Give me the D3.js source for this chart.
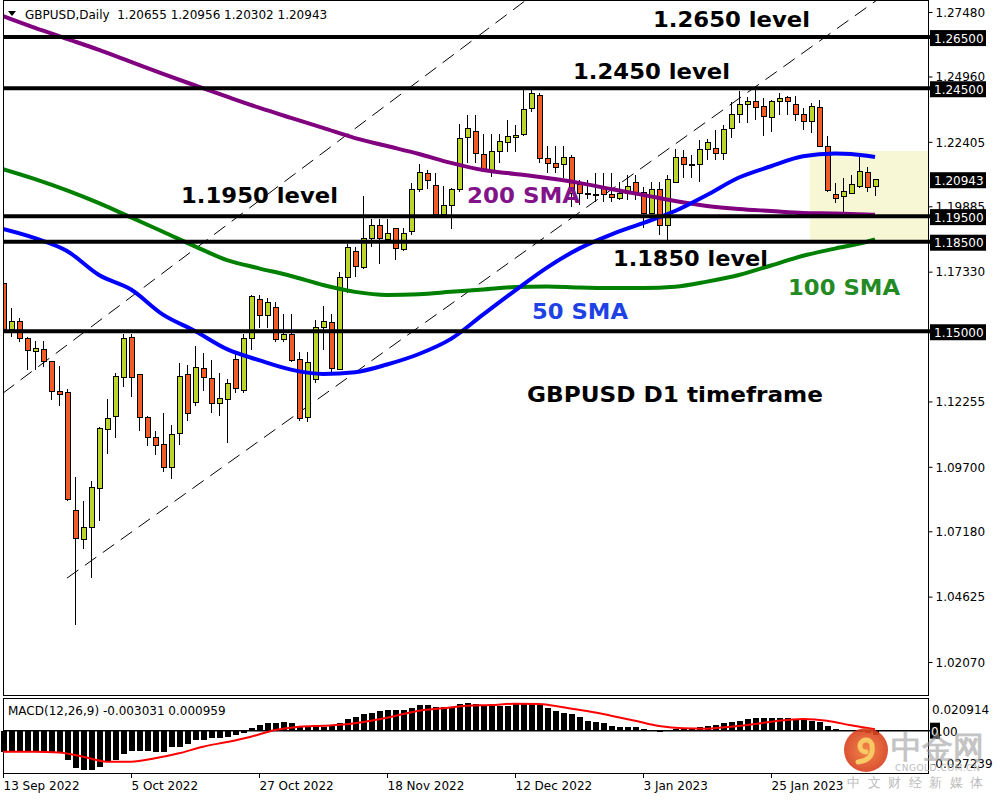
<!DOCTYPE html>
<html>
<head>
<meta charset="utf-8">
<script src="https://cdn.jsdelivr.net/npm/d3@7"></script>
<style>
  body { margin: 0; background: #fff; }
  svg { display: block; }
  text { font-family: "DejaVu Sans", sans-serif; }
</style>
</head>
<body>
<svg id="chart" width="1000" height="800"></svg>
<script>
// daily candles, 13 Sep 2022 .. 13 Feb 2023 (110 bars)
const open = [1.1685,1.1505,1.1540,1.1470,1.1419,1.1430,1.1380,1.1266,1.1262,1.0801,
  1.0684,1.0731,1.0887,1.1114,1.1168,1.1321,1.1477,1.1329,1.1161,1.1086,
  1.1059,1.0969,1.1102,1.1329,1.1223,1.1356,1.1317,1.1219,1.1235,1.1391,
  1.1270,1.1473,1.1626,1.1563,1.1591,1.1466,1.1489,1.1391,1.1161,1.1313,
  1.1513,1.1536,1.1352,1.1712,1.1810,1.1751,1.1864,1.1915,1.1860,1.1900,
  1.1821,1.1888,1.2056,1.2115,1.2068,1.1958,1.1990,1.2056,1.2259,1.2279,
  1.2189,1.2130,1.2201,1.2236,1.2259,1.2271,1.2369,1.2420,1.2177,1.2154,
  1.2150,1.2181,1.2072,1.2040,1.2029,1.2060,1.2033,1.2017,1.2040,1.2080,
  1.2044,1.1962,1.2056,1.1915,1.2083,1.2181,1.2150,1.2150,1.2209,1.2216,
  1.2193,1.2291,1.2349,1.2388,1.2400,1.2377,1.2334,1.2400,1.2412,1.2388,
  1.2349,1.2318,1.2373,1.2224,1.2036,1.2025,1.2040,1.2064,1.2119,1.20655];
const high = [1.1739,1.1591,1.1552,1.1477,1.1462,1.1462,1.1384,1.1364,1.1274,1.0930,
  1.0836,1.0914,1.1125,1.1235,1.1337,1.1489,1.1489,1.1333,1.1168,1.1110,
  1.1180,1.1133,1.1376,1.1368,1.1442,1.1415,1.1387,1.1337,1.1313,1.1415,
  1.1489,1.1642,1.1642,1.1630,1.1614,1.1567,1.1567,1.1419,1.1419,1.1544,
  1.1599,1.1567,1.1732,1.1841,1.1829,1.2029,1.1939,1.1939,1.1939,1.1904,
  1.1904,1.2080,1.2154,1.2130,1.2119,1.2068,1.2060,1.2310,1.2345,1.2345,
  1.2271,1.2271,1.2271,1.2326,1.2306,1.2443,1.2443,1.2431,1.2224,1.2224,
  1.2224,1.2189,1.2091,1.2091,1.2119,1.2119,1.2119,1.2083,1.2111,1.2111,
  1.2064,1.2083,1.2083,1.2111,1.2212,1.2209,1.2189,1.2248,1.2252,1.2287,
  1.2306,1.2396,1.2439,1.2416,1.2459,1.2412,1.2404,1.2431,1.2420,1.2420,
  1.2373,1.2392,1.2404,1.2263,1.2080,1.2099,1.2111,1.2185,1.2142,1.20956];
const low = [1.1493,1.1477,1.1458,1.1348,1.1348,1.1360,1.1231,1.1208,1.0836,1.0351,
  1.0648,1.0535,1.0758,1.1020,1.1082,1.1282,1.1243,1.1110,1.1051,1.1016,
  1.0950,1.0922,1.1055,1.1149,1.1208,1.1266,1.1180,1.1168,1.1063,1.1258,
  1.1258,1.1427,1.1513,1.1513,1.1458,1.1458,1.1380,1.1149,1.1145,1.1298,
  1.1427,1.1337,1.1348,1.1649,1.1712,1.1743,1.1829,1.1763,1.1857,1.1778,
  1.1814,1.1876,1.2044,1.2056,1.1954,1.1945,1.1900,1.2044,1.2158,1.2158,
  1.2122,1.2103,1.2158,1.2201,1.2201,1.2263,1.2357,1.2158,1.2119,1.2119,
  1.2099,1.1986,1.1993,1.2017,1.2005,1.2005,1.2005,1.2013,1.2013,1.2013,
  1.1904,1.1958,1.1876,1.1845,1.2083,1.2099,1.2099,1.2083,1.2170,1.2170,
  1.2170,1.2255,1.2314,1.2314,1.2326,1.2263,1.2279,1.2345,1.2345,1.2322,
  1.2287,1.2275,1.2224,1.2044,1.2001,1.1954,1.2040,1.2060,1.2044,1.20302];
const close = [1.1505,1.1540,1.1470,1.1423,1.1434,1.1380,1.1266,1.1254,1.0844,1.0691,
  1.0731,1.0891,1.1118,1.1157,1.1325,1.1473,1.1321,1.1161,1.1086,1.1055,
  1.0969,1.1098,1.1325,1.1180,1.1360,1.1321,1.1219,1.1239,1.1294,1.1278,
  1.1470,1.1634,1.1563,1.1614,1.1466,1.1489,1.1387,1.1157,1.1376,1.1516,
  1.1540,1.1356,1.1712,1.1829,1.1755,1.1864,1.1915,1.1864,1.1884,1.1825,
  1.1884,1.2056,1.2119,1.2091,1.1958,1.1990,1.2056,1.2255,1.2291,1.2193,
  1.2130,1.2201,1.2240,1.2263,1.2267,1.2365,1.2431,1.2177,1.2154,1.2142,
  1.2181,1.2040,1.2040,1.2033,1.2033,1.2033,1.2021,1.2040,1.2064,1.2044,
  1.1962,1.2056,1.1915,1.2095,1.2181,1.2150,1.2146,1.2209,1.2236,1.2193,
  1.2287,1.2349,1.2388,1.2400,1.2373,1.2338,1.2400,1.2408,1.2400,1.2349,
  1.2318,1.2377,1.2224,1.2052,1.2017,1.2048,1.2072,1.2123,1.2060,1.20943];

// moving averages read every 4 bars
const smaBars = [0,4,8,12,16,20,24,28,32,36,40,44,48,52,56,60,64,68,72,76,80,84,88,92,96,100,104,108,109];
const sma50 = [1.1900,1.1864,1.1814,1.1720,1.1663,1.1565,1.1501,1.1430,1.1387,1.1350,1.1333,1.1340,1.1370,1.1411,1.1470,
  1.1565,1.1659,1.1749,1.1823,1.1878,1.1923,1.1970,1.2033,1.2101,1.2145,1.2184,1.2195,1.2186,1.2181];
const sma100 = [1.2134,1.2095,1.2051,1.2001,1.1945,1.1889,1.1832,1.1778,1.1746,1.1716,1.1681,1.1654,1.1642,1.1645,1.1654,
  1.1663,1.1673,1.1675,1.1671,1.1669,1.1669,1.1674,1.1694,1.1720,1.1757,1.1795,1.1823,1.1850,1.1859];
const sma200 = [1.2732,1.2686,1.2643,1.2600,1.2553,1.2506,1.2461,1.2417,1.2374,1.2334,1.2295,1.2255,1.2224,1.2193,1.2158,
  1.2130,1.2115,1.2099,1.2080,1.2056,1.2033,1.2009,1.1990,1.1978,1.1970,1.1962,1.1960,1.1956,1.1955];

// MACD(12,26,9): main as histogram, signal as line
const macdMain = [-0.01383,-0.01383,-0.01383,-0.01383,-0.01383,-0.01383,-0.01383,-0.01493,-0.01933,-0.02482,
  -0.02592,-0.02592,-0.02373,-0.02043,-0.01933,-0.01537,-0.01339,-0.01339,-0.01339,-0.01383,
  -0.01383,-0.01097,-0.01053,-0.00899,-0.00613,-0.00613,-0.00503,-0.00503,-0.00437,-0.00284,
  -0.00130,0.00156,0.00376,0.00486,0.00486,0.00552,0.00486,0.00310,0.00266,0.00266,
  0.00266,0.00310,0.00486,0.00750,0.00925,0.01102,0.01189,0.01321,0.01365,0.01365,
  0.01365,0.01476,0.01695,0.01695,0.01585,0.01585,0.01585,0.01761,0.01805,0.01761,
  0.01650,0.01650,0.01629,0.01629,0.01761,0.01761,0.01761,0.01695,0.01476,0.01321,
  0.01189,0.01080,0.00882,0.00662,0.00596,0.00486,0.00332,0.00266,0.00266,0.00222,
  0.00090,0.00046,-0.00064,0.00046,0.00090,0.00090,0.00200,0.00266,0.00332,0.00398,
  0.00486,0.00574,0.00662,0.00750,0.00816,0.00816,0.00816,0.00816,0.00816,0.00750,
  0.00750,0.00662,0.00596,0.00310,0.00112,0.00046,-0.00042,-0.00086,-0.00130,-0.003031];
const signalBars = [0,4,7,10,13,16,19,22,25,28,31,34,37,40,43,46,49,52,55,58,61,64,67,70,73,76,79,82,85,88,91,94,97,100,103,106,109];
const macdSignal = [-0.01383,-0.01383,-0.0143,-0.01713,-0.02043,-0.02043,-0.01823,-0.01493,-0.01053,-0.00745,-0.00394,
  0.00046,0.00266,0.00332,0.0042,0.00662,0.0097,0.01321,0.01476,0.01651,0.01695,0.01783,0.01761,0.01541,0.0130,
  0.00992,0.00662,0.0031,0.00156,0.00134,0.00266,0.00442,0.00662,0.00772,0.00662,0.00354,0.000959];

// chart objects
const levels = [1.2650, 1.2450, 1.1950, 1.1850, 1.1500];
const priceTicks = [1.27480, 1.24960, 1.22405, 1.19885, 1.17330, 1.12255, 1.09700, 1.07180, 1.04625, 1.02070];
const dateBars = [0, 16, 32, 48, 64, 80, 96];
const dateLabels = ["13 Sep 2022", "5 Oct 2022", "27 Oct 2022", "18 Nov 2022", "12 Dec 2022", "3 Jan 2023", "25 Jan 2023"];
const zoneBar = 101, zoneHigh = 1.2205, zoneLow = 1.1857;
const channelUpper = [[0, 1.1258], [42, 1.2245]];
const channelLower = [[8, 1.0535], [99, 1.2566]];
const macdMax = 0.020914, macdMin = -0.027239;

const svg = d3.select("#chart");
const L = 3, R = 928, T = 1, B = 696, MT = 698, MB = 773;

const x = d3.scaleLinear([0, 109], [3, 875]);
const y = d3.scaleLinear([1.00741, 1.27910], [B, T]);
const ym = d3.scaleLinear([macdMin, macdMax], [772, 699]);
const px = i => Math.round(x(i)) + 0.5;

const defs = svg.append("defs");
defs.append("clipPath").attr("id", "mainClip")
  .append("rect").attr("x", L).attr("y", T).attr("width", R - L).attr("height", B - T);

const main = svg.append("g").attr("clip-path", "url(#mainClip)");

// yellow zone
main.append("rect")
  .attr("x", x(zoneBar) - 1).attr("y", y(zoneHigh))
  .attr("width", R - x(zoneBar) + 1).attr("height", y(zoneLow) - y(zoneHigh))
  .attr("fill", "#f7f7d6");

// dashed channel lines, extended to the right
function extend(seg, iEnd) {
  const [[i1, p1], [i2, p2]] = seg;
  const slope = (p2 - p1) / (i2 - i1);
  return [[i1, p1], [iEnd, p1 + slope * (iEnd - i1)]];
}
[channelUpper, channelLower].forEach(seg => {
  const pts = extend(seg, 140);
  main.append("line")
    .attr("x1", x(pts[0][0])).attr("y1", y(pts[0][1]))
    .attr("x2", x(pts[1][0])).attr("y2", y(pts[1][1]))
    .attr("stroke", "#000").attr("stroke-width", 1)
    .attr("stroke-dasharray", "14,8");
});

// candles
const candles = d3.range(open.length).map(i => ({ i, o: open[i], h: high[i], l: low[i], c: close[i] }));
const cg = main.append("g").attr("shape-rendering", "crispEdges");
cg.selectAll("line.wick").data(candles).enter().append("line")
  .attr("x1", d => px(d.i)).attr("x2", d => px(d.i))
  .attr("y1", d => y(d.h)).attr("y2", d => y(d.l))
  .attr("stroke", "#000");
cg.selectAll("rect.body").data(candles).enter().append("rect")
  .attr("x", d => px(d.i) - 2.5).attr("width", 5)
  .attr("y", d => y(Math.max(d.o, d.c)))
  .attr("height", d => Math.max(1, Math.abs(y(d.o) - y(d.c))))
  .attr("fill", d => d.c >= d.o ? "#bed52e" : "#f25c26")
  .attr("stroke", "#000").attr("stroke-width", 1);

// moving averages
const smaLine = d3.line().x(d => x(d[0])).y(d => y(d[1])).curve(d3.curveMonotoneX);
[[sma200, "#800080"], [sma100, "#008000"], [sma50, "#0000ff"]].forEach(([vals, col]) => {
  main.append("path")
    .attr("d", smaLine(smaBars.map((b, k) => [b, vals[k]])))
    .attr("fill", "none").attr("stroke", col).attr("stroke-width", 4);
});

// horizontal levels
svg.append("g").selectAll("line").data(levels).enter().append("line")
  .attr("x1", L).attr("x2", 931)
  .attr("y1", d => y(d)).attr("y2", d => y(d))
  .attr("stroke", "#000").attr("stroke-width", 4);

// frames
svg.append("rect").attr("x", L + 0.5).attr("y", T - 0.5).attr("width", R - L).attr("height", B - T)
  .attr("fill", "none").attr("stroke", "#000");
svg.append("rect").attr("x", L + 0.5).attr("y", MT + 0.5).attr("width", R - L).attr("height", MB - MT)
  .attr("fill", "none").attr("stroke", "#000");

// price axis
const yAxis = svg.append("g").attr("transform", `translate(${R + 0.5},0)`)
  .call(d3.axisRight(y).tickValues(priceTicks).tickSize(4).tickPadding(3).tickFormat(d3.format(".5f")));
yAxis.select(".domain").remove();
yAxis.selectAll("text").attr("font-size", 12).attr("font-family", "DejaVu Sans").attr("fill", "#000").attr("dy", "0.36em");
yAxis.selectAll("line").attr("stroke", "#000");

// price label boxes
const boxes = levels.concat([close[close.length - 1]]);
const bg = svg.append("g");
boxes.forEach(p => {
  const yy = y(p);
  bg.append("rect").attr("x", 930).attr("y", yy - 7).attr("width", 56).attr("height", 16).attr("fill", "#000");
  bg.append("text").attr("x", 934).attr("y", yy + 5.5).attr("font-size", 12).attr("fill", "#fff")
    .text(p.toFixed(5));
});

// annotations
const notes = [
  { t: "1.2650 level", x: 653, y: 27, w: 157, c: "#000" },
  { t: "1.2450 level", x: 573, y: 79, w: 157, c: "#000" },
  { t: "1.1950 level", x: 181, y: 203, w: 157, c: "#000" },
  { t: "200 SMA", x: 467, y: 203, w: 113, c: "#82148a" },
  { t: "1.1850 level", x: 613, y: 266, w: 155, c: "#000" },
  { t: "100 SMA", x: 788, y: 295, w: 112, c: "#248a24" },
  { t: "50 SMA", x: 532, y: 319, w: 96, c: "#1f42e4" },
  { t: "GBPUSD D1 timeframe", x: 527, y: 402, w: 296, c: "#000" }
];
svg.append("g").selectAll("text").data(notes).enter().append("text")
  .attr("x", d => d.x).attr("y", d => d.y)
  .attr("textLength", d => d.w).attr("lengthAdjust", "spacingAndGlyphs")
  .attr("font-size", 22).attr("font-weight", "bold").attr("fill", d => d.c)
  .text(d => d.t);

// header
svg.append("path").attr("d", "M8,11 L16,11 L12,16 Z").attr("fill", "#000");
const last = open.length - 1;
svg.append("text").attr("x", 25).attr("y", 19).attr("font-size", 12).style("white-space", "pre")
  .text(`GBPUSD,Daily  ${open[last].toFixed(5)} ${high[last].toFixed(5)} ${low[last].toFixed(5)} ${close[last].toFixed(5)}`);

// MACD panel
const mg = svg.append("g").attr("shape-rendering", "crispEdges");
mg.selectAll("rect").data(macdMain).enter().append("rect")
  .attr("x", (d, i) => Math.round(x(i)) - 2).attr("width", 6)
  .attr("y", d => Math.min(ym(0), ym(d)))
  .attr("height", d => Math.abs(ym(d) - ym(0)))
  .attr("fill", "#000");
svg.append("line").attr("x1", L).attr("x2", 931).attr("y1", ym(0)).attr("y2", ym(0))
  .attr("stroke", "#000").attr("stroke-width", 1.5);
svg.append("path")
  .attr("d", d3.line().x(d => x(d[0])).y(d => ym(d[1])).curve(d3.curveMonotoneX)(signalBars.map((b, k) => [b, macdSignal[k]])))
  .attr("fill", "none").attr("stroke", "#ff0000").attr("stroke-width", 2);

svg.append("text").attr("x", 8).attr("y", 715).attr("font-size", 12)
  .text(`MACD(12,26,9) ${macdMain[last].toFixed(6)} ${macdSignal[macdSignal.length - 1].toFixed(6)}`);
svg.append("text").attr("x", 932).attr("y", 714).attr("font-size", 12).text(macdMax.toFixed(6));
svg.append("text").attr("x", 931).attr("y", 768).attr("font-size", 12).text(macdMin.toFixed(6));
svg.append("rect").attr("x", 930).attr("y", ym(0) - 8).attr("width", 10).attr("height", 16).attr("fill", "#000");
const zt = svg.append("text").attr("x", 931).attr("y", ym(0) + 5).attr("font-size", 12);
zt.append("tspan").attr("fill", "#fff").text("0");
zt.append("tspan").attr("fill", "#000").text(".00");

// date axis
const xAxis = svg.append("g").attr("transform", `translate(0,${MB})`)
  .call(d3.axisBottom(x).tickValues(dateBars).tickSize(5).tickPadding(3)
    .tickFormat((d, k) => dateLabels[k]));
xAxis.select(".domain").remove();
xAxis.selectAll("text").attr("font-size", 12).attr("font-family", "DejaVu Sans")
  .attr("text-anchor", "start").attr("fill", "#000");
xAxis.selectAll("line").attr("stroke", "#000");

// watermark
const rg = defs.append("radialGradient").attr("id", "wmg");
rg.append("stop").attr("offset", "0%").attr("stop-color", "#f07a34");
rg.append("stop").attr("offset", "100%").attr("stop-color", "#d8401f");
const wm = svg.append("g").attr("opacity", 0.9);
wm.append("circle").attr("cx", 866).attr("cy", 750).attr("r", 22).attr("fill", "url(#wmg)");
wm.append("path").attr("d", "M866,752 a6,6 0 1,1 6,-6 q2,14 -14,16")
  .attr("fill", "none").attr("stroke", "#f8c454").attr("stroke-width", 5).attr("stroke-linecap", "round");
wm.append("text").attr("x", 891).attr("y", 758).attr("font-size", 31).attr("font-weight", "bold")
  .attr("font-family", "Noto Sans CJK SC").attr("fill", "#9c9c9c").attr("opacity", 0.65).text("中金网");
wm.append("text").attr("x", 895).attr("y", 771).attr("font-size", 9).attr("letter-spacing", 0.5)
  .attr("fill", "#b5b5b5").text("CNGOLD.COM.CN");
wm.append("text").attr("x", 847).attr("y", 787).attr("font-size", 13).attr("letter-spacing", 7.5)
  .attr("font-family", "Noto Sans CJK SC").attr("fill", "#b5b5b5").text("中文财经新媒体");
</script>
</body>
</html>
